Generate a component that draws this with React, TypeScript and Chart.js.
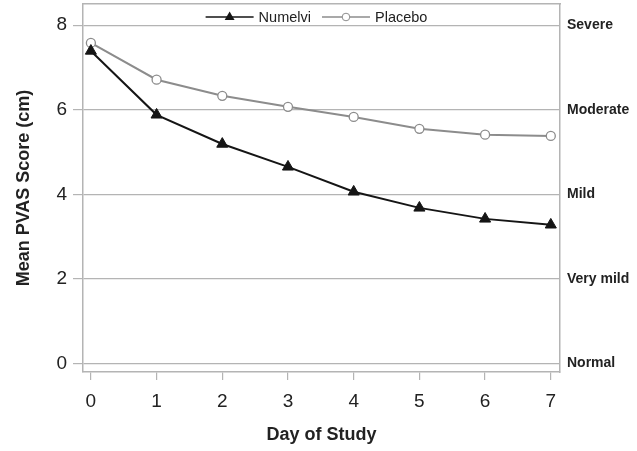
import React, { useEffect, useRef } from "react";
import { Chart, registerables } from "chart.js";

Chart.register(...registerables);

const days = [0, 1, 2, 3, 4, 5, 6, 7];
const numelvi = [7.39, 5.88, 5.19, 4.65, 4.06, 3.68, 3.42, 3.28];
const placebo = [7.58, 6.71, 6.33, 6.07, 5.83, 5.55, 5.41, 5.38];
const seriesNames = ["Numelvi", "Placebo"];
const severityValues = [0, 2, 4, 6, 8];
const severityLabels = ["Normal", "Very mild", "Mild", "Moderate", "Severe"];

const FONT = "'Liberation Sans', Arial, Helvetica, sans-serif";
const GRID = "#b4b4b4";
const TEXT = "#222222";

const legendPlugin = {
  id: "insideLegend",
  afterDraw(chart: any) {
    const ctx = chart.ctx;
    const area = chart.chartArea;
    const sampleLen = 48;
    const gapText = 5;
    const gapItem = 11;
    ctx.save();
    ctx.font = `14.5px ${FONT}`;
    const items = chart.data.datasets.map((ds: any) => ({
      ds,
      w: sampleLen + gapText + ctx.measureText(ds.label).width,
    }));
    const total = items.reduce((s: number, it: any) => s + it.w, 0) + gapItem * (items.length - 1);
    let x = (area.left + area.right) / 2 - 5 - total / 2;
    const y = area.top + 13;
    items.forEach((it: any) => {
      const ds = it.ds;
      ctx.strokeStyle = ds.borderColor;
      ctx.lineWidth = 1.6;
      ctx.beginPath();
      ctx.moveTo(x, y);
      ctx.lineTo(x + sampleLen, y);
      ctx.stroke();
      const cx = x + sampleLen / 2;
      if (ds.pointStyle === "triangle") {
        const r = 5.5;
        ctx.fillStyle = ds.pointBackgroundColor;
        ctx.beginPath();
        ctx.moveTo(cx, y - r);
        ctx.lineTo(cx + r * 0.9, y + r * 0.55);
        ctx.lineTo(cx - r * 0.9, y + r * 0.55);
        ctx.closePath();
        ctx.fill();
      } else {
        ctx.fillStyle = "#ffffff";
        ctx.lineWidth = 1;
        ctx.beginPath();
        ctx.arc(cx, y, 3.8, 0, Math.PI * 2);
        ctx.fill();
        ctx.stroke();
      }
      ctx.fillStyle = TEXT;
      ctx.textAlign = "left";
      ctx.textBaseline = "middle";
      ctx.fillText(ds.label, x + sampleLen + gapText, y + 1);
      x += it.w + gapItem;
    });
    ctx.restore();
  },
};

export default function App() {
  const ref = useRef<HTMLCanvasElement | null>(null);

  useEffect(() => {
    if (!ref.current) return;
    const chart = new Chart(ref.current, {
      type: "line",
      data: {
        datasets: [
          {
            label: seriesNames[0],
            data: days.map((d, i) => ({ x: d, y: numelvi[i] })),
            borderColor: "#151515",
            backgroundColor: "#151515",
            borderWidth: 2,
            pointStyle: "triangle",
            pointRadius: 6.4,
            pointBackgroundColor: "#151515",
            pointBorderColor: "#151515",
            pointBorderWidth: 1,
            tension: 0,
            yAxisID: "y",
          },
          {
            label: seriesNames[1],
            data: days.map((d, i) => ({ x: d, y: placebo[i] })),
            borderColor: "#8c8c8c",
            backgroundColor: "#ffffff",
            borderWidth: 2,
            pointStyle: "circle",
            pointRadius: 4.5,
            pointBackgroundColor: "#ffffff",
            pointBorderColor: "#8c8c8c",
            pointBorderWidth: 1.3,
            tension: 0,
            yAxisID: "y",
          },
        ],
      },
      options: {
        responsive: false,
        animation: false,
        layout: { padding: 0, autoPadding: false },
        plugins: {
          legend: { display: false },
          tooltip: { enabled: false },
        },
        scales: {
          x: {
            type: "linear",
            position: "bottom",
            min: -0.12,
            max: 7.14,
            ticks: {
              stepSize: 1,
              includeBounds: false,
              color: TEXT,
              font: { family: FONT, size: 19 },
              padding: 10,
            },
            grid: {
              drawOnChartArea: false,
              drawTicks: true,
              tickLength: 8,
              color: GRID,
              lineWidth: 1.2,
            },
            border: { display: true, color: GRID, width: 1.5 },
            title: {
              display: true,
              text: "Day of Study",
              color: TEXT,
              font: { family: FONT, size: 18, weight: "bold" },
              padding: { top: 0, bottom: 5 },
            },
            afterFit: (s: any) => {
              s.height = 79;
              s.paddingLeft = 0;
              s.paddingRight = 0;
            },
          },
          x2: {
            type: "linear",
            position: "top",
            min: -0.12,
            max: 7.14,
            ticks: { display: false },
            grid: { display: false },
            border: { display: true, color: GRID, width: 1.5 },
            afterFit: (s: any) => {
              s.height = 4;
              s.paddingLeft = 0;
              s.paddingRight = 0;
            },
          },
          y: {
            type: "linear",
            position: "left",
            min: -0.2,
            max: 8.5,
            ticks: {
              stepSize: 2,
              includeBounds: false,
              color: TEXT,
              font: { family: FONT, size: 19 },
              padding: 6,
            },
            grid: {
              drawTicks: true,
              tickLength: 10,
              color: GRID,
              lineWidth: 1.2,
            },
            border: { display: true, color: GRID, width: 1.5 },
            title: {
              display: true,
              text: "Mean PVAS Score (cm)",
              color: TEXT,
              font: { family: FONT, size: 18, weight: "bold" },
              padding: { top: 13, bottom: 0 },
            },
            afterFit: (s: any) => {
              s.width = 83;
              s.paddingTop = 0;
              s.paddingBottom = 0;
            },
          },
          y2: {
            type: "linear",
            position: "right",
            min: -0.2,
            max: 8.5,
            afterBuildTicks: (s: any) => {
              s.ticks = severityValues.map((v) => ({ value: v }));
            },
            ticks: {
              color: TEXT,
              font: { family: FONT, size: 14, weight: "bold" },
              padding: 7,
              callback: (v: any) => {
                const i = severityValues.indexOf(Number(v));
                return i >= 0 ? severityLabels[i] : "";
              },
            },
            grid: { display: false, drawTicks: false },
            border: { display: true, color: GRID, width: 1.5 },
            afterFit: (s: any) => {
              s.width = 77;
              s.paddingTop = 0;
              s.paddingBottom = 0;
            },
          },
        },
      } as any,
      plugins: [legendPlugin],
    });
    return () => chart.destroy();
  }, []);

  return (
    <div style={{ position: "absolute", left: 0, top: 0, width: 637, height: 451, background: "#fff" }}>
      <canvas ref={ref} width={637} height={451} style={{ display: "block", width: 637, height: 451 }} />
    </div>
  );
}
